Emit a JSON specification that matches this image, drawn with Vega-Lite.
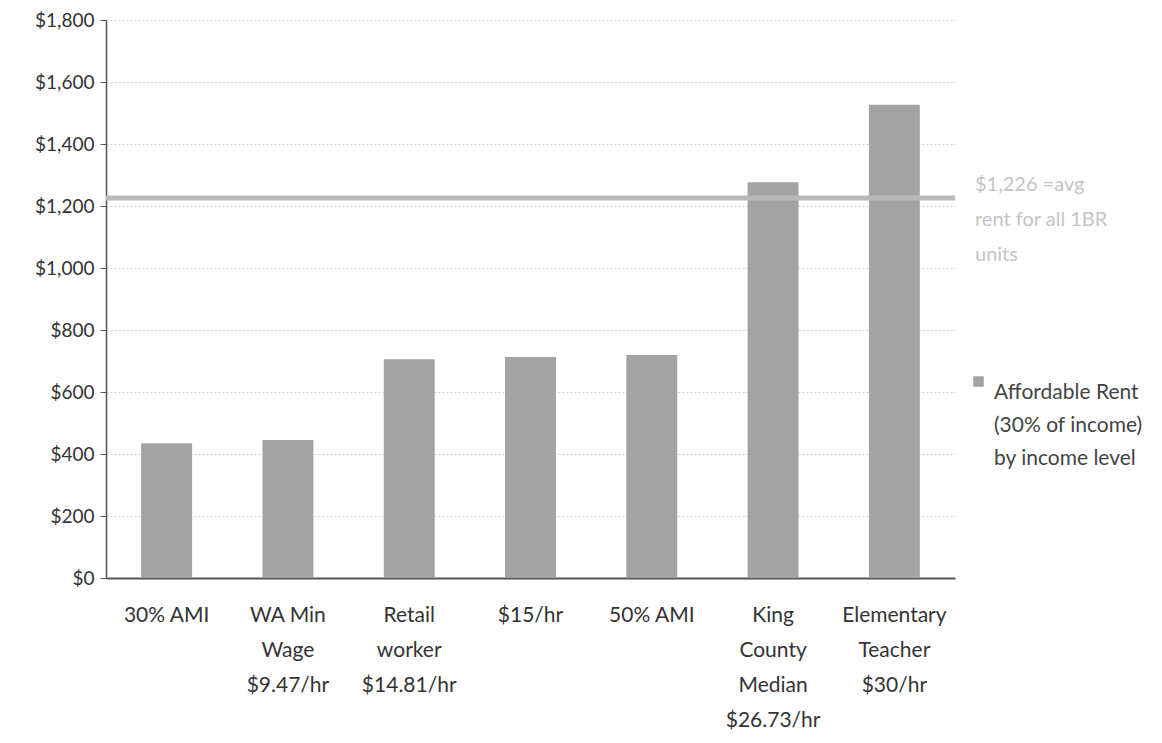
{
  "$schema": "https://vega.github.io/schema/vega-lite/v6.json",
  "autosize": "none",
  "width": 849,
  "height": 558,
  "padding": {"left": 106, "top": 20, "right": 207, "bottom": 165},
  "background": "white",
  "config": {
    "font": "Lato",
    "view": {"stroke": null},
    "style": {"guide-label": {"lineHeight": 33}},
    "axis": {"labelFont": "Lato", "labelColor": "#333333", "titleFont": "Lato"}
  },
  "layer": [
    {
      "data": {
        "values": [
          {"group": "30% AMI", "rent": 435, "series": "Affordable Rent (30% of income) by income level"},
          {"group": "WA Min\nWage\n$9.47/hr", "rent": 445, "series": "Affordable Rent (30% of income) by income level"},
          {"group": "Retail\nworker\n$14.81/hr", "rent": 706, "series": "Affordable Rent (30% of income) by income level"},
          {"group": "$15/hr", "rent": 713, "series": "Affordable Rent (30% of income) by income level"},
          {"group": "50% AMI", "rent": 719, "series": "Affordable Rent (30% of income) by income level"},
          {"group": "King\nCounty\nMedian\n$26.73/hr", "rent": 1277, "series": "Affordable Rent (30% of income) by income level"},
          {"group": "Elementary\nTeacher\n$30/hr", "rent": 1527, "series": "Affordable Rent (30% of income) by income level"}
        ]
      },
      "mark": {"type": "bar"},
      "encoding": {
        "x": {
          "field": "group",
          "type": "nominal",
          "sort": null,
          "scale": {"paddingInner": 0.58, "paddingOuter": 0.29},
          "axis": {
            "title": null,
            "labelAngle": 0,
            "labelExpr": "split(datum.label, '\\n')",
            "labelFontSize": 21,
            "labelBaseline": "top",
            "labelPadding": 26,
            "labelLineHeight": 35,
            "ticks": false,
            "domainColor": "#555555",
            "domainWidth": 2,
            "grid": false
          }
        },
        "y": {
          "field": "rent",
          "type": "quantitative",
          "scale": {"domain": [0, 1800], "nice": false},
          "axis": {
            "title": null,
            "values": [0, 200, 400, 600, 800, 1000, 1200, 1400, 1600, 1800],
            "labelExpr": "'$' + format(datum.value, ',')",
            "labelFontSize": 19,
            "labelPadding": 6,
            "tickSize": 6,
            "tickColor": "#555555",
            "domainColor": "#555555",
            "domainWidth": 1.5,
            "gridColor": "#cfcfcf",
            "gridDash": [2, 2],
            "gridWidth": 1
          }
        },
        "color": {
          "field": "series",
          "type": "nominal",
          "scale": {"range": ["#a3a3a3"]},
          "legend": {
            "title": null,
            "orient": "none",
            "legendX": 862,
            "legendY": 351,
            "symbolType": "square",
            "symbolSize": 110,
            "symbolStrokeWidth": 0,
            "labelFont": "Lato",
            "labelFontSize": 21,
            "labelColor": "#444444",
            "labelLimit": 300,
            "labelBaseline": "top",
            "labelOffset": 5,
            "labelExpr": "['Affordable Rent', ' (30% of income)', 'by income level']"
          }
        }
      }
    },
    {
      "data": {"values": [{"avg_rent": 1226, "note": "$1,226 =avg|rent for all 1BR|units"}]},
      "layer": [
        {
          "mark": {"type": "rule", "color": "#b9b9b9", "strokeWidth": 5},
          "encoding": {"y": {"field": "avg_rent", "type": "quantitative"}}
        },
        {
          "mark": {
            "type": "text",
            "align": "left",
            "baseline": "middle",
            "lineBreak": "|",
            "dx": 20,
            "dy": -13,
            "fontSize": 20,
            "lineHeight": 35,
            "color": "#c4c4c4",
            "font": "Lato"
          },
          "encoding": {
            "x": {"value": {"expr": "width"}},
            "y": {"field": "avg_rent", "type": "quantitative"},
            "text": {"field": "note", "type": "nominal"}
          }
        }
      ]
    }
  ]
}
